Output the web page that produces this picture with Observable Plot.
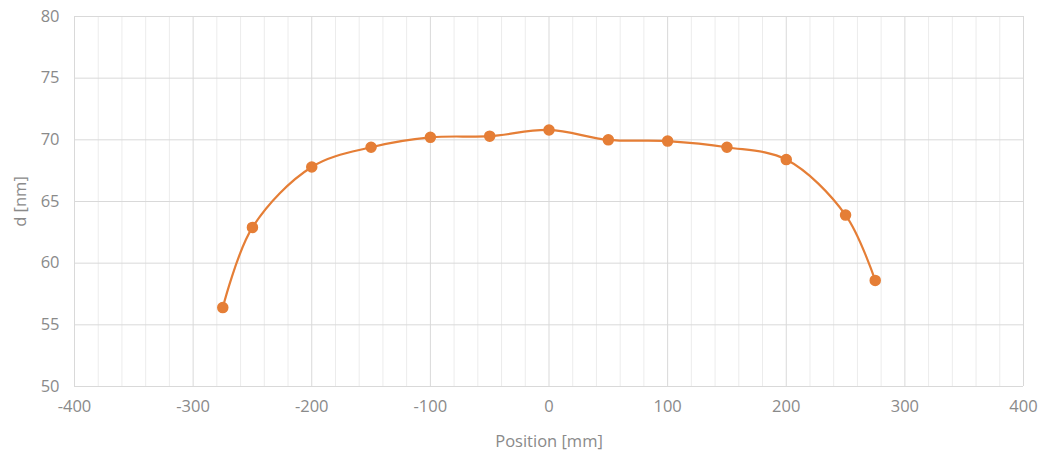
<!DOCTYPE html>
<html><head><meta charset="utf-8">
<script src="https://cdn.jsdelivr.net/npm/d3@7"></script>
<script src="https://cdn.jsdelivr.net/npm/@observablehq/plot@0.6"></script>
<style>body{margin:0;background:#fff}</style>
</head><body><div id="chart"></div>
<script>
const positions = [-275, -250, -200, -150, -100, -50, 0, 50, 100, 150, 200, 250, 275];
const thickness = [56.4, 62.9, 67.8, 69.4, 70.2, 70.3, 70.8, 70.0, 69.9, 69.4, 68.4, 63.9, 58.6];
const xTicks = [-400, -300, -200, -100, 0, 100, 200, 300, 400];
const yTicks = [50, 55, 60, 65, 70, 75, 80];
const xMinor = d3.range(-380, 400, 20).filter(v => v % 100 !== 0);

const data = positions.map((p, i) => ({x: p, y: thickness[i]}));
const orange = "#E57E36";

const chart = Plot.plot({
  width: 1038,
  height: 451,
  marginLeft: 74,
  marginRight: 15,
  marginTop: 16,
  marginBottom: 65,
  style: {fontFamily: "'Open Sans', sans-serif", fontSize: "16.5px", color: "#8a8a8a", background: "#fff"},
  x: {domain: [-400, 400]},
  y: {domain: [50, 80]},
  marks: [
    Plot.ruleX(xMinor, {stroke: "#ececec", strokeWidth: 1}),
    Plot.ruleX(xTicks, {stroke: "#d9d9d9", strokeWidth: 1}),
    Plot.ruleY(yTicks, {stroke: "#d9d9d9", strokeWidth: 1}),
    Plot.axisX({ticks: xTicks, tickSize: 0, tickPadding: 14, tickFormat: d => String(d),
      label: "Position [mm]", labelAnchor: "center", labelArrow: "none", labelOffset: 60}),
    Plot.axisY({ticks: yTicks, tickSize: 0, tickPadding: 15, tickFormat: d => String(d),
      label: "d [nm]", labelAnchor: "center", labelArrow: "none", labelOffset: 60}),
    Plot.line(data, {x: "x", y: "y", curve: "catmull-rom", stroke: orange, strokeWidth: 2.2}),
    Plot.dot(data, {x: "x", y: "y", r: 5, fill: orange, stroke: orange})
  ]
});
document.getElementById("chart").append(chart);
</script>
</body></html>
